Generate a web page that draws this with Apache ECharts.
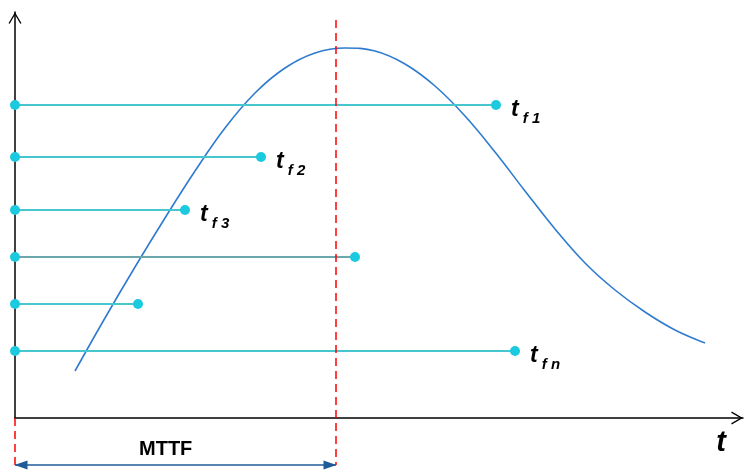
<!DOCTYPE html>
<html>
<head>
<meta charset="utf-8">
<title>MTTF</title>
<script src="https://cdn.jsdelivr.net/npm/echarts@6/dist/echarts.min.js"></script>
<style>
	*{margin:0;padding:0;}
	#chart{width:744px;height:470px;background:#fff;}
</style>
</head>
<body>
<div id="chart"></div>
<script>
// failure times of the units (x) and the level each one is drawn at (y)
var failTimes = [481, 246, 170, 340, 123, 500];
var failLevels = [313, 261, 208, 161, 114, 67];
var failLabels = ['1', '2', '3', '', '', 'n'];
var lineColors = ['#46c6ce', '#46c6ce', '#46c6ce', '#6aa6ac', '#46c6ce', '#46c6ce'];

// density curve
var curveX = [60, 90, 120, 150, 180, 210, 240, 270, 300, 330, 360, 390, 420, 450, 480, 510, 540, 570, 600, 630, 660, 690];
var curveY = [47, 100, 151, 200, 247, 290, 325, 350, 365, 370, 367, 354, 332, 302, 266, 227, 189, 155, 128, 106, 88, 75];

var mttf = 321;
var xMax = 728, yMax = 406;
var mttfTop = 398, mttfBottom = -47, floorY = -52;

var chevron = 'path://M0,0 L6.5,11 L5.3,11.7 L0,2.6 L-5.3,11.7 L-6.5,11 Z';

var myChart = echarts.init(document.getElementById('chart'));

var curve = [];
for (var i = 0; i < curveX.length; i++) {
	curve.push([curveX[i], curveY[i]]);
}

var series = [];
for (var i = 0; i < failTimes.length; i++) {
	var lab = failLabels[i];
	series.push({
		type: 'line',
		clip: false,
		symbol: 'circle',
		symbolSize: 10,
		itemStyle: {color: '#1ccadf'},
		lineStyle: {color: lineColors[i], width: 2},
		z: 3,
		data: [
			[0, failLevels[i]],
			{
				value: [failTimes[i], failLevels[i]],
				label: {
					show: lab !== '',
					position: 'right',
					distance: 10,
					offset: [0, 5],
					formatter: '{a|t}{b| f ' + lab + '}',
					rich: {
						a: {fontFamily: 'Liberation Sans', fontStyle: 'italic', fontWeight: 'bold', fontSize: 23, color: '#000'},
						b: {fontFamily: 'Liberation Sans', fontStyle: 'italic', fontWeight: 'bold', fontSize: 15, color: '#000', padding: [17, 0, 0, 0]}
					}
				}
			}
		]
	});
}

series.push({
	type: 'line',
	smooth: 0.4,
	symbol: 'none',
	clip: false,
	lineStyle: {color: '#2e7bcf', width: 1.6},
	z: 2,
	data: curve
});

// MTTF dashed lines
series.push({
	type: 'line',
	symbol: 'none',
	clip: false,
	lineStyle: {color: '#ff0000', width: 1.5, type: [8, 5]},
	z: 4,
	data: [[mttf, mttfTop], [mttf, mttfBottom]]
});
series.push({
	type: 'line',
	symbol: 'none',
	clip: false,
	lineStyle: {color: '#ff0000', width: 1.5, type: [8, 5]},
	z: 1,
	data: [[0, 0], [0, floorY]]
});

// MTTF double arrow
series.push({
	type: 'line',
	clip: false,
	symbol: 'triangle',
	symbolSize: [9, 13],
	itemStyle: {color: '#1f5b98'},
	lineStyle: {color: '#1f5b98', width: 1.5},
	z: 4,
	data: [
		{value: [0, mttfBottom], symbolRotate: 90, symbolOffset: [6, 0]},
		{value: [mttf, mttfBottom], symbolRotate: -90, symbolOffset: [-6, 0]}
	]
});

var option = {
	animation: false,
	backgroundColor: '#fff',
	grid: {left: 15, right: 1, top: 12, bottom: 52},
	xAxis: {
		type: 'value',
		min: 0,
		max: xMax,
		name: 't',
		nameLocation: 'end',
		nameGap: -22,
		nameTextStyle: {
			fontFamily: 'Liberation Sans', fontStyle: 'italic', fontWeight: 'bold', fontSize: 29, color: '#000',
			align: 'center', verticalAlign: 'top', padding: [10, 0, 0, 0]
		},
		axisLine: {
			show: true,
			onZero: false,
			symbol: ['none', chevron],
			symbolSize: [13, 11.7],
			symbolOffset: [0, -6],
			lineStyle: {color: '#000', width: 1.5}
		},
		axisTick: {show: false},
		axisLabel: {show: false},
		splitLine: {show: false}
	},
	yAxis: {
		type: 'value',
		min: 0,
		max: yMax,
		axisLine: {
			show: true,
			onZero: false,
			symbol: ['none', chevron],
			symbolSize: [13, 11.7],
			symbolOffset: [0, -6],
			lineStyle: {color: '#000', width: 1.5}
		},
		axisTick: {show: false},
		axisLabel: {show: false},
		splitLine: {show: false}
	},
	graphic: [{
		type: 'text',
		left: 139,
		top: 439,
		style: {text: 'MTTF', fontFamily: 'Liberation Sans', fontWeight: 'bold', fontSize: 20, fill: '#000'}
	}],
	series: series
};

myChart.setOption(option);
</script>
</body>
</html>
